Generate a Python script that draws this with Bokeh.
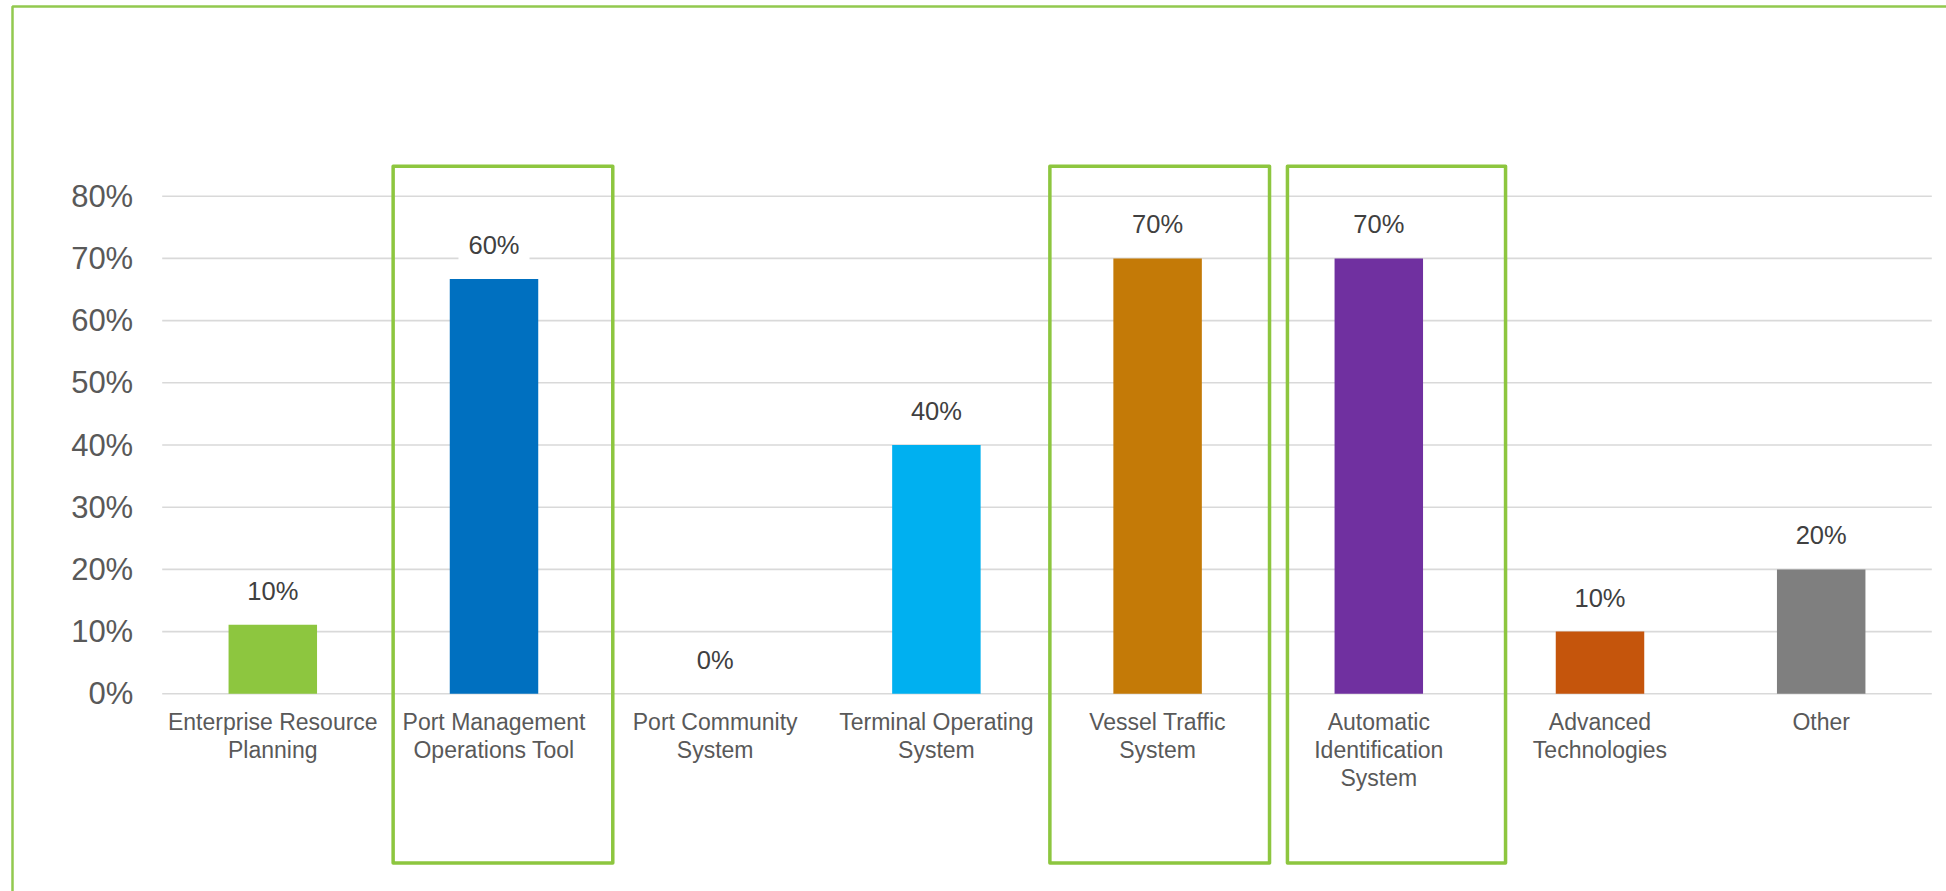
from bokeh.plotting import figure
from bokeh.models import (ColumnDataSource, Range1d, LinearAxis, FixedTicker,
                          NumeralTickFormatter)
from bokeh.core.properties import value
from bokeh.embed import file_html
from bokeh.resources import INLINE

# ---------------- data ----------------
categories = ["Enterprise Resource Planning", "Port Management Operations Tool",
              "Port Community System", "Terminal Operating System",
              "Vessel Traffic System", "Automatic Identification System",
              "Advanced Technologies", "Other"]
category_labels = ["Enterprise Resource\nPlanning", "Port Management\nOperations Tool",
                   "Port Community\nSystem", "Terminal Operating\nSystem",
                   "Vessel Traffic\nSystem", "Automatic\nIdentification\nSystem",
                   "Advanced\nTechnologies", "Other"]
shares = [0.111, 0.667, 0.0, 0.40, 0.70, 0.70, 0.10, 0.20]
share_labels = ["10%", "60%", "0%", "40%", "70%", "70%", "10%", "20%"]
bar_colors = ["#8DC63F", "#0070C0", "#A5A5A5", "#00B0F0", "#C47A07", "#7030A0",
              "#C5550C", "#7F7F7F"]
y_ticks = [0.0, 0.1, 0.2, 0.3, 0.4, 0.5, 0.6, 0.7, 0.8]
highlighted = ["Port Management Operations Tool", "Vessel Traffic System",
               "Automatic Identification System"]

# ---------------- layout constants (pixels) ----------------
W, H = 1946, 891
PX_X = 221.2          # pixels per category
PX_Y = 622.0          # pixels per 100 %
GRID_LEFT = 161.7     # canvas x where the plot area starts
ZERO_Y = 693.3        # canvas y of the 0 % line

n = len(categories)
x_start = -0.5 - GRID_LEFT / PX_X
x_end = x_start + W / PX_X
y_end = ZERO_Y / PX_Y
y_start = y_end - H / PX_Y

GREEN = "#8DC63F"

p = figure(width=W, height=H, output_backend="svg", toolbar_location=None,
           x_range=Range1d(x_start, x_end), y_range=Range1d(y_start, y_end),
           x_axis_type=None, y_axis_type=None,
           min_border_left=0, min_border_right=0, min_border_top=0, min_border_bottom=0)
p.outline_line_color = None
p.background_fill_color = "white"
p.border_fill_color = "white"

xs = list(range(n))
src = ColumnDataSource(dict(x=xs, share=shares, label=share_labels, color=bar_colors,
                            cat=categories))

# gridlines (only across the plot area)
p.segment(x0=[-0.5] * len(y_ticks), x1=[n - 0.5] * len(y_ticks), y0=y_ticks, y1=y_ticks,
          line_color="#D9D9D9", line_width=1.6)

# bars
p.vbar(x="x", top="share", width=0.40, source=src, fill_color="color", line_color=None)

# data labels
p.text(x="x", y="share", text="label", source=src, text_align="center",
       text_baseline="middle", y_offset=-34, text_font=value("Liberation Sans"),
       text_font_size="25.5px", text_color="#404040",
       background_fill_color="white", padding=(10, 3))

# highlight boxes around selected categories (left/right extents relative to center)
box_extent = {"Port Management Operations Tool": (-0.456, 0.537),
              "Vessel Traffic System": (-0.487, 0.506),
              "Automatic Identification System": (-0.413, 0.573)}
bl, br = [], []
for c in highlighted:
    i = categories.index(c)
    bl.append(i + box_extent[c][0])
    br.append(i + box_extent[c][1])
box_top = 0.848
box_bottom = -0.272
p.quad(left=bl, right=br, top=[box_top] * len(bl), bottom=[box_bottom] * len(bl),
       fill_color=None, line_color=GREEN, line_width=3.5, line_join="round")

# outer frame (left and top edges visible)
bx = x_start + 12 / PX_X
by = y_end - 6 / PX_Y
p.line(x=[bx, bx, x_end + 1], y=[y_start - 1, by, by], line_color="#92C94F", line_width=2.5)

# y axis
yaxis = LinearAxis(fixed_location=-0.5, ticker=FixedTicker(ticks=y_ticks),
                   formatter=NumeralTickFormatter(format="0%"))
yaxis.axis_line_color = None
yaxis.major_tick_line_color = None
yaxis.minor_tick_line_color = None
yaxis.major_tick_out = 0
yaxis.major_label_standoff = 29
yaxis.major_label_text_font = "Liberation Sans"
yaxis.major_label_text_font_size = "31px"
yaxis.major_label_text_color = "#595959"
p.add_layout(yaxis, "left")

# x axis (categories)
xaxis = LinearAxis(fixed_location=0, ticker=FixedTicker(ticks=xs),
                   major_label_overrides={i: lab for i, lab in enumerate(category_labels)})
xaxis.axis_line_color = None
xaxis.major_tick_line_color = None
xaxis.minor_tick_line_color = None
xaxis.major_tick_out = 0
xaxis.major_label_standoff = 15
xaxis.major_label_text_font = "Liberation Sans"
xaxis.major_label_text_font_size = "23px"
xaxis.major_label_text_line_height = 1.08
xaxis.major_label_text_color = "#595959"
p.add_layout(xaxis, "below")

open("out.html", "w").write(file_html(p, INLINE))
